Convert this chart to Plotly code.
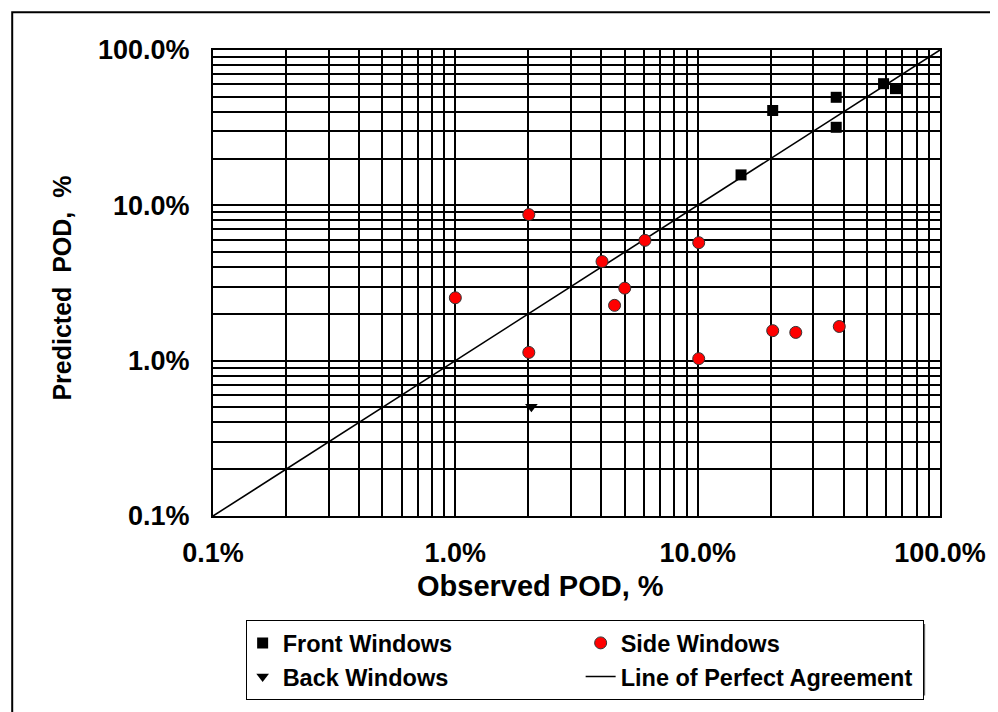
import plotly.graph_objects as go

# Data (percent)
front_x = [20.4, 37.3, 37.3, 58.5, 65.5, 15.1]
front_y = [40.8, 49.6, 31.8, 60.7, 56.4, 15.7]

side_x = [2.01, 6.06, 10.1, 4.03, 5.0, 4.54, 1.0, 2.01, 10.1, 20.4, 25.4, 38.4]
side_y = [8.72, 5.95, 5.75, 4.35, 2.93, 2.27, 2.54, 1.13, 1.03, 1.56, 1.52, 1.66]

back_x = [2.06]
back_y = [0.505]

line_x = [0.1, 100]
line_y = [0.1, 100]

tick_vals = [0.1, 1, 10, 100]
tick_text = ["0.1%", "1.0%", "10.0%", "100.0%"]
minor_vals = [m * d for d in (0.1, 1, 10) for m in range(2, 10)]

FONT = "Liberation Sans"

# page has an 8px body margin, so work in shifted coordinates
OFF = 8
L, T, PW, PH = 213 - OFF, 50 - OFF, 735, 470
W, H = 998 - OFF, 712 - OFF


def px(xp):
    return (xp - OFF - L) / PW


def py(yp):
    return (T + PH - (yp - OFF)) / PH


fig = go.Figure()
fig.add_trace(go.Scatter(
    x=line_x, y=line_y, mode="lines", name="Line of Perfect Agreement",
    line=dict(color="black", width=1.6), legendrank=4))
fig.add_trace(go.Scatter(
    x=front_x, y=front_y, mode="markers", name="Front Windows",
    marker=dict(symbol="square", size=11, color="black"), legendrank=1))
fig.add_trace(go.Scatter(
    x=side_x, y=side_y, mode="markers", name="Side Windows",
    marker=dict(symbol="circle", size=12, color="#ff0000",
                line=dict(color="#333333", width=1)), legendrank=2))
fig.add_trace(go.Scatter(
    x=back_x, y=back_y, mode="markers", name="Back Windows",
    marker=dict(symbol="triangle-down", size=11, color="black"), legendrank=3))

axis_common = dict(
    type="log", range=[-1, 2], tickvals=tick_vals, ticktext=tick_text,
    showgrid=True, gridcolor="black", gridwidth=2,
    minor=dict(tickvals=minor_vals, showgrid=True, gridcolor="black", gridwidth=2, ticks=""),
    showline=True, linecolor="black", linewidth=2, mirror=True,
    ticks="", zeroline=False,
    tickfont=dict(family=FONT, size=27, color="black", weight="bold"),
)

fig.update_xaxes(**axis_common, ticklabelstandoff=12)
fig.update_yaxes(**axis_common, ticklabelstandoff=16)

fig.update_layout(
    width=W, height=H,
    margin=dict(l=L, r=W - L - PW, t=T, b=H - T - PH),
    paper_bgcolor="white", plot_bgcolor="white",
    showlegend=True,
    legend=dict(
        orientation="h", x=px(246), y=py(625), xanchor="left", yanchor="top",
        entrywidth=297, entrywidthmode="pixels", indentation=-4,
        bgcolor="white", bordercolor="black", borderwidth=1,
        font=dict(family=FONT, size=23.5, color="black", weight="bold"),
        traceorder="normal",
    ),
    annotations=[
        dict(text="Observed POD, %", xref="paper", yref="paper",
             x=px(544.5), y=py(591), showarrow=False,
             xanchor="center", yanchor="middle",
             font=dict(family=FONT, size=29, color="black", weight="bold")),
        dict(text="Predicted\u00a0 POD,\u00a0 %", xref="paper", yref="paper",
             x=px(60), y=py(290), showarrow=False,
             textangle=-90, xanchor="center", yanchor="middle",
             font=dict(family=FONT, size=25, color="black", weight="bold")),
    ],
    shapes=[
        # outer frame
        dict(type="rect", xref="paper", yref="paper",
             x0=px(10), x1=px(1010), y0=py(740), y1=py(12),
             line=dict(color="black", width=2), fillcolor="rgba(0,0,0,0)", layer="below"),
        # legend shadow
        dict(type="rect", xref="paper", yref="paper",
             x0=px(250), x1=px(933), y0=py(701), y1=py(629),
             line=dict(width=0), fillcolor="#666666", layer="above"),
    ],
)

fig.write_html("out.html")
